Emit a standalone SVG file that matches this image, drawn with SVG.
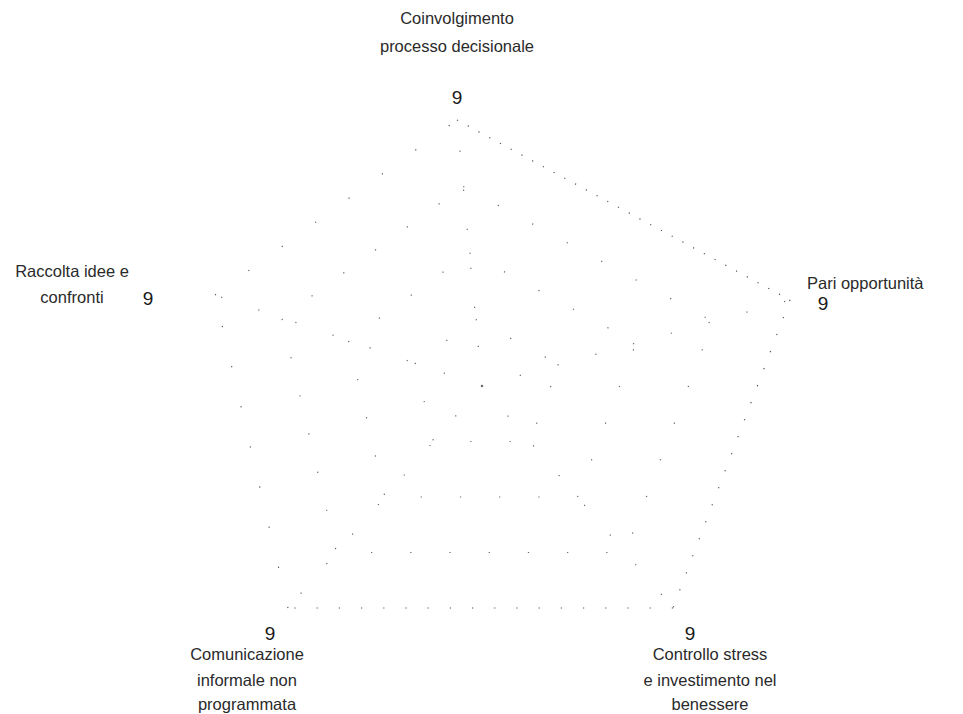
<svg xmlns="http://www.w3.org/2000/svg" width="963" height="714" viewBox="0 0 963 714">
<style>
  .lbl { font-family: "Liberation Sans", Arial, sans-serif; font-size: 16.5px; fill: #2a2a2a; text-anchor: middle; }
  .val { font-family: "Liberation Sans", Arial, sans-serif; font-size: 19px; fill: #1a1a1a; text-anchor: middle; }
  .grid { fill: none; stroke: #666; stroke-width: 1.2; stroke-dasharray: 1.2 38; }
  .edge { fill: none; stroke: #555; stroke-width: 1.2; }
  .dense { stroke-dasharray: 1.2 11; }
  .mid { stroke-dasharray: 1.2 17; }
  .bot { stroke-dasharray: 1.2 21; }
  .sparse { stroke-dasharray: 1.2 40; }
</style>
<rect width="963" height="714" fill="#ffffff"/>
<g id="connectors">
  <polygon class="grid" points="475.75,319.5 559,364.5 529.75,441.5 433.5,441.5 415.25,363.25"/>
  <polygon class="grid" points="469.5,253 636,343 577.5,497 385,497 348.5,340.5"/>
  <polygon class="grid" points="463.25,186.5 713,321.5 625.25,552.5 336.5,552.5 281.75,317.75"/>
  <line class="grid" x1="482" y1="386" x2="457" y2="120"/>
  <line class="grid" x1="482" y1="386" x2="790" y2="300"/>
  <line class="grid" x1="482" y1="386" x2="673" y2="608"/>
  <line class="grid" x1="482" y1="386" x2="288" y2="608"/>
  <line class="grid" x1="482" y1="386" x2="215" y2="295"/>
  <line class="edge dense" x1="457" y1="120" x2="790" y2="300"/>
  <line class="edge mid" x1="790" y1="300" x2="673" y2="608"/>
  <line class="edge bot" x1="673" y1="608" x2="288" y2="608"/>
  <line class="edge sparse" x1="288" y1="608" x2="215" y2="295"/>
  <line class="edge sparse" x1="215" y1="295" x2="457" y2="120"/>
</g>
<g id="node-coinvolgimento">
  <text class="lbl" x="457" y="24">Coinvolgimento</text>
  <text class="lbl" x="457" y="52">processo decisionale</text>
  <text class="val" x="457" y="104">9</text>
</g>
<g id="node-pari">
  <text class="lbl" x="807" y="289" style="text-anchor:start">Pari opportunità</text>
  <text class="val" x="823" y="310">9</text>
</g>
<g id="node-controllo">
  <text class="val" x="690" y="640">9</text>
  <text class="lbl" x="710" y="660">Controllo stress</text>
  <text class="lbl" x="710" y="686">e investimento nel</text>
  <text class="lbl" x="710" y="710">benessere</text>
</g>
<g id="node-comunicazione">
  <text class="val" x="270" y="640">9</text>
  <text class="lbl" x="247" y="660">Comunicazione</text>
  <text class="lbl" x="247" y="686">informale non</text>
  <text class="lbl" x="247" y="710">programmata</text>
</g>
<g id="node-raccolta">
  <text class="lbl" x="72" y="277">Raccolta idee e</text>
  <text class="lbl" x="72" y="303">confronti</text>
  <text class="val" x="148" y="305">9</text>
</g>
</svg>
